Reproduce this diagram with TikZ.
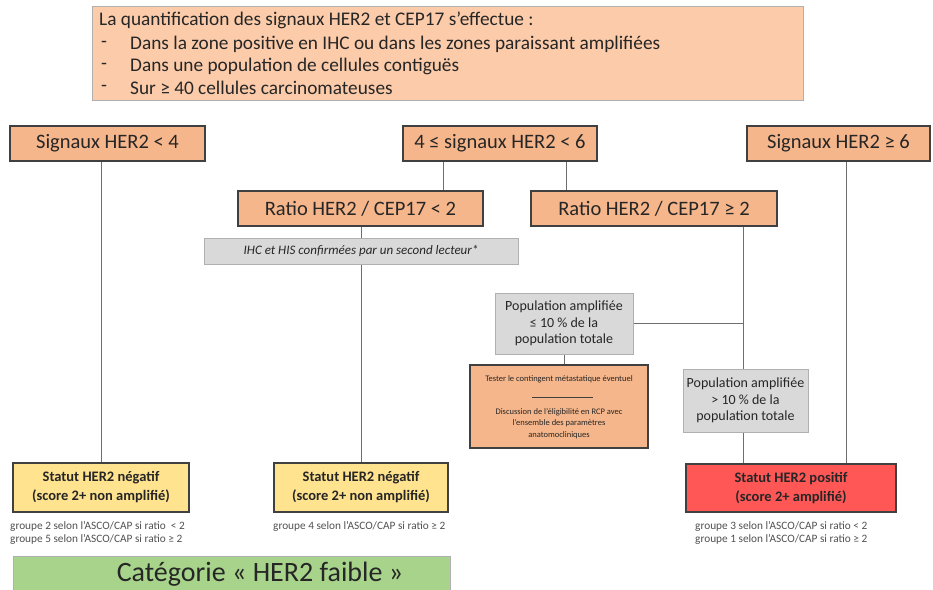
\documentclass[tikz,border=0pt]{standalone}
\usepackage{fontspec}
\setmainfont{Carlito}
\usetikzlibrary{backgrounds}
\definecolor{orng}{HTML}{F6B68B}
\definecolor{orngl}{HTML}{FBCBAA}
\definecolor{gryf}{HTML}{D9D9D9}
\definecolor{yel}{HTML}{FFE38F}
\definecolor{redf}{HTML}{FF5656}
\definecolor{grn}{HTML}{A7D48A}
\definecolor{lnc}{HTML}{6E6E6E}
\definecolor{txt}{HTML}{262626}
\definecolor{dbd}{HTML}{404040}
\definecolor{lbd}{HTML}{B0B0B0}
\definecolor{smalltxt}{HTML}{505050}
\begin{document}
\begin{tikzpicture}[x=1pt,y=1pt,
  base/.style={inner sep=0pt, align=center, text=txt},
  topbox/.style={base, draw=lbd, fill=orngl, line width=1pt},
  toptext/.style={base, anchor=west, font=\fontsize{19.3}{22}\selectfont},
  obox/.style={base, draw=dbd, fill=orng, line width=1.2pt, minimum height=35, font=\fontsize{20.5}{24}\selectfont},
  banner/.style={base, draw=lbd, fill=gryf, line width=0.8pt, font=\itshape\fontsize{13}{15}\selectfont},
  gbox/.style={base, draw=lbd, fill=gryf, line width=1pt, font=\fontsize{14}{16.5}\selectfont},
  tbox/.style={base, draw=dbd, fill=orng, line width=1.2pt},
  ttext/.style={base, font=\fontsize{8.5}{11.5}\selectfont},
  ybox/.style={base, draw=dbd, fill=yel, line width=1.2pt, font=\bfseries\fontsize{14.5}{19}\selectfont},
  rbox/.style={base, draw=dbd, fill=redf, line width=1.2pt, font=\bfseries\fontsize{14.5}{19}\selectfont},
  grp/.style={base, anchor=north west, align=left, text=smalltxt, font=\fontsize{11.3}{13}\selectfont},
  greenbox/.style={base, draw=lbd, fill=grn, line width=1pt},
  greentext/.style={base, font=\fontsize{28}{32}\selectfont},
  conn/.style={draw=lnc, line width=0.9pt}]
\useasboundingbox (0,0) rectangle (933,-589);

% top box
\node[topbox, minimum width=711, minimum height=94] (top) at (447.5,-53) {};
\node[toptext] (l1) at (99,-20) {La quantification des signaux HER2 et CEP17 s’effectue :};
\node[toptext] (b2) at (101,-44.5) {-};
\node[toptext] (l2) at (130,-44) {Dans la zone positive en IHC ou dans les zones paraissant amplifiées};
\node[toptext] (b3) at (101,-66.5) {-};
\node[toptext] (l3) at (130,-66) {Dans une population de cellules contiguës};
\node[toptext] (b4) at (101,-88.5) {-};
\node[toptext] (l4) at (130,-88) {Sur ≥ 40 cellules carcinomateuses};

% first row
\node[obox, minimum width=195] (s4) at (107.5,-143.5) {Signaux HER2 < 4};
\node[obox, minimum width=194] (s46) at (500,-143.5) {4 ≤ signaux HER2 < 6};
\node[obox, minimum width=183] (s6) at (838.5,-143.5) {Signaux HER2 ≥ 6};

% second row
\node[obox, minimum width=245] (r2lt) at (360.5,-208.5) {Ratio HER2 / CEP17 < 2};
\node[obox, minimum width=246] (r2ge) at (654,-208.5) {Ratio HER2 / CEP17 ≥ 2};

\node[banner, minimum width=314, minimum height=26] (ban) at (361,-251) {IHC et HIS confirmées par un second lecteur*};

% population boxes
\node[gbox, minimum width=138, minimum height=61] (p10le) at (564,-323.5) {Population amplifiée\\≤ 10 \% de la\\population totale};
\node[gbox, minimum width=125, minimum height=63] (p10gt) at (745.5,-400.5) {Population amplifiée\\> 10 \% de la\\population totale};

\node[tbox, minimum width=178, minimum height=83] (tester) at (559,-406.5) {};
\node[ttext] (t1) at (559,-379) {Tester le contingent métastatique éventuel};
\coordinate (sepl) at (532,-397);
\coordinate (sepr) at (593,-397);
\draw[draw=dbd, line width=0.5pt] (sepl) -- (sepr);
\node[ttext] (t2) at (559,-423.5) {Discussion de l’éligibilité en RCP avec\\l’ensemble des paramètres\\anatomocliniques};

% status boxes
\node[ybox, minimum width=176, minimum height=49] (neg1) at (101,-487.5) {Statut HER2 négatif\\(score 2+ non amplifié)};
\node[ybox, minimum width=174, minimum height=49] (neg2) at (361,-487.5) {Statut HER2 négatif\\(score 2+ non amplifié)};
\node[rbox, minimum width=210, minimum height=48] (pos) at (791,-488) {Statut HER2 positif\\(score 2+ amplifié)};

\node[grp] (g1) at (10,-521) {groupe 2 selon l’ASCO/CAP si ratio\ \ < 2\\groupe 5 selon l’ASCO/CAP si ratio ≥ 2};
\node[grp] (g2) at (273,-521) {groupe 4 selon l’ASCO/CAP si ratio ≥ 2};
\node[grp] (g3) at (695,-521) {groupe 3 selon l’ASCO/CAP si ratio < 2\\groupe 1 selon l’ASCO/CAP si ratio ≥ 2};

\node[greenbox, minimum width=437, minimum height=42] (cat) at (231.5,-577) {};
\node[greentext] (cattext) at (260,-574.5) {Catégorie « HER2 faible »};

\coordinate (jn) at (743,-323.5);
\begin{scope}[on background layer]
\draw[conn] (s4.south -| neg1.north) -- (neg1.north);
\draw[conn] (s46.south -| 443,0) -- (r2lt.north -| 443,0);
\draw[conn] (s46.south -| 566,0) -- (r2ge.north -| 566,0);
\draw[conn] (r2lt.south -| neg2.north) -- (neg2.north);
\draw[conn] (r2ge.south -| jn) -- (p10gt.north -| jn);
\draw[conn] (p10le.east) -- (jn);
\draw[conn] (p10le.south) -- (tester.north -| p10le.south);
\draw[conn] (p10gt.south -| jn) -- (pos.north -| jn);
\draw[conn] (s6.south -| 846,0) -- (pos.north -| 846,0);
\end{scope}
\end{tikzpicture}
\end{document}
